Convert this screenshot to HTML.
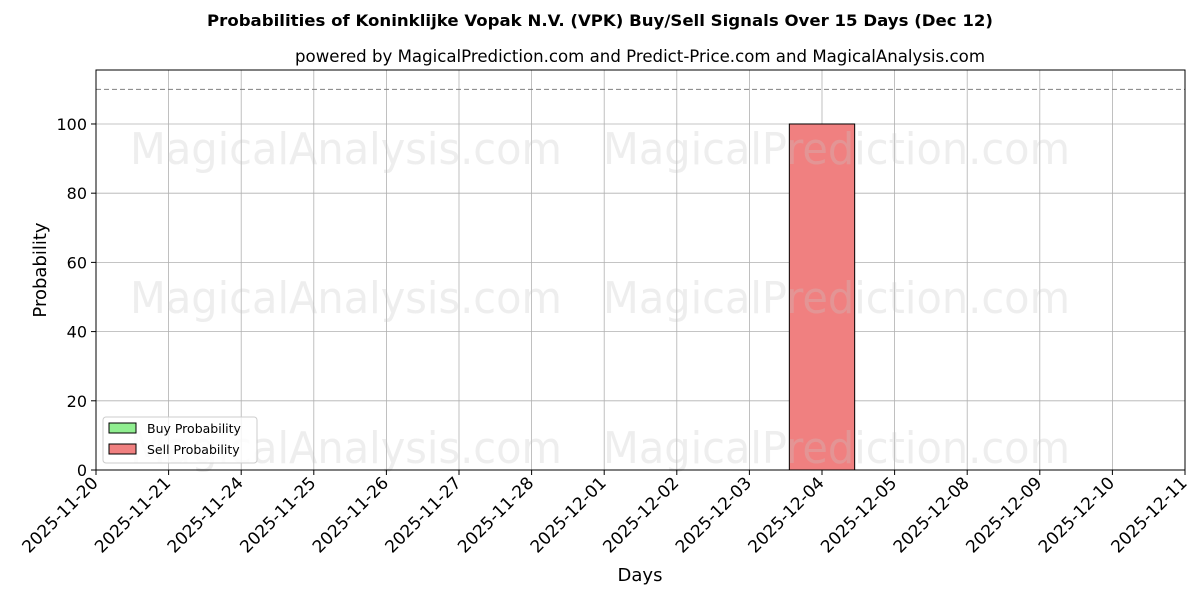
<!DOCTYPE html>
<html><head><meta charset="utf-8"><style>
body{margin:0;background:#fff;}
svg text{font-family:"DejaVu Sans","Liberation Sans",sans-serif;}
</style></head><body>
<svg id="chart" width="1200" height="600" xmlns="http://www.w3.org/2000/svg">
<text x="600" y="26" text-anchor="middle" font-size="16" font-weight="bold" textLength="786" lengthAdjust="spacingAndGlyphs">Probabilities of Koninklijke Vopak N.V. (VPK) Buy/Sell Signals Over 15 Days (Dec 12)</text>
<text x="640" y="62" text-anchor="middle" font-size="16.5" textLength="690" lengthAdjust="spacingAndGlyphs">powered by MagicalPrediction.com and Predict-Price.com and MagicalAnalysis.com</text>
<g id="grid"></g>
<g id="bars"></g>
<g fill="#c8c8c8" fill-opacity="0.3" font-size="44">
<text x="130" y="164" textLength="432" lengthAdjust="spacingAndGlyphs">MagicalAnalysis.com</text><text x="603" y="164" textLength="467" lengthAdjust="spacingAndGlyphs">MagicalPrediction.com</text>
<text x="130" y="313" textLength="432" lengthAdjust="spacingAndGlyphs">MagicalAnalysis.com</text><text x="603" y="313" textLength="467" lengthAdjust="spacingAndGlyphs">MagicalPrediction.com</text>
<text x="130" y="463" textLength="432" lengthAdjust="spacingAndGlyphs">MagicalAnalysis.com</text><text x="603" y="463" textLength="467" lengthAdjust="spacingAndGlyphs">MagicalPrediction.com</text>
</g>
<line x1="96" x2="1185" y1="89.4" y2="89.4" stroke="#808080" stroke-dasharray="5,3" stroke-width="1"/>
<rect x="96" y="70" width="1089" height="400" fill="none" stroke="#000" stroke-width="1"/>
<g id="axes"></g>
<text x="640" y="581" text-anchor="middle" font-size="18">Days</text>
<text transform="translate(46,270) rotate(-90)" text-anchor="middle" font-size="18">Probability</text>
<g>
<rect x="103" y="417" width="154" height="46" fill="#fff" fill-opacity="0.8" stroke="#ccc" rx="3"/>
<rect x="109" y="423" width="27" height="10" fill="#90ee90" stroke="#000"/>
<text x="147" y="433" font-size="12.5">Buy Probability</text>
<rect x="109" y="444" width="27" height="10" fill="#f08080" stroke="#000"/>
<text x="147" y="454" font-size="12.5">Sell Probability</text>
</g>
</svg>
<script>
const categories=["2025-11-20","2025-11-21","2025-11-24","2025-11-25","2025-11-26","2025-11-27","2025-11-28","2025-12-01","2025-12-02","2025-12-03","2025-12-04","2025-12-05","2025-12-08","2025-12-09","2025-12-10","2025-12-11"];
const buyValues=[0,0,0,0,0,0,0,0,0,0,0,0,0,0,0,0];
const sellValues=[0,0,0,0,0,0,0,0,0,0,100,0,0,0,0,0];
const yTicks=[0,20,40,60,80,100];
const NS="http://www.w3.org/2000/svg";
const x0=96,x1=1185,y0=470,yMax=115.6,plotH=400;
const xs=i=>x0+i*(x1-x0)/(categories.length-1);
const ys=v=>y0-v/yMax*plotH;
const bw=0.9*(x1-x0)/(categories.length-1);
function mk(t,a,p){const e=document.createElementNS(NS,t);for(const k in a)e.setAttribute(k,a[k]);p.appendChild(e);return e;}
const grid=document.getElementById('grid'),axes=document.getElementById('axes'),bars=document.getElementById('bars');
categories.forEach((c,i)=>{
 const x=xs(i);
 const g=mk('line',{x1:x,x2:x,y1:70,y2:470,stroke:'#b0b0b0','stroke-width':0.8},grid);
 
 
 const tk=mk('line',{x1:x,x2:x,y1:470,y2:475,stroke:'#000'},axes);
 
 
 const t=mk('text',{x:x+3,y:484,'font-size':17,'text-anchor':'end',transform:`rotate(-45 ${x+3} 484)`},axes);
 t.textContent=c;
 
 
});
yTicks.forEach(v=>{
 const y=ys(v);
 const g=mk('line',{x1:96,x2:1185,y1:y,y2:y,stroke:'#b0b0b0','stroke-width':0.8},grid);
 
 
 const tk=mk('line',{x1:91,x2:96,y1:y,y2:y,stroke:'#000'},axes);
 
 
 const t=mk('text',{x:87,y:y+6,'font-size':16,'text-anchor':'end'},axes);
 t.textContent=v;
 
 
});
categories.forEach((c,i)=>{
 if(buyValues[i]>0){
  const b=mk('rect',{x:xs(i)-bw/2,y:ys(buyValues[i]),width:bw,height:y0-ys(buyValues[i]),fill:'#90ee90',stroke:'#000'},bars);
  
  
 }
 if(sellValues[i]>0){
  const b=mk('rect',{x:xs(i)-bw/2,y:ys(sellValues[i]),width:bw,height:y0-ys(sellValues[i]),fill:'#f08080',stroke:'#000'},bars);
  
  
 }
});
</script>
</body></html>
